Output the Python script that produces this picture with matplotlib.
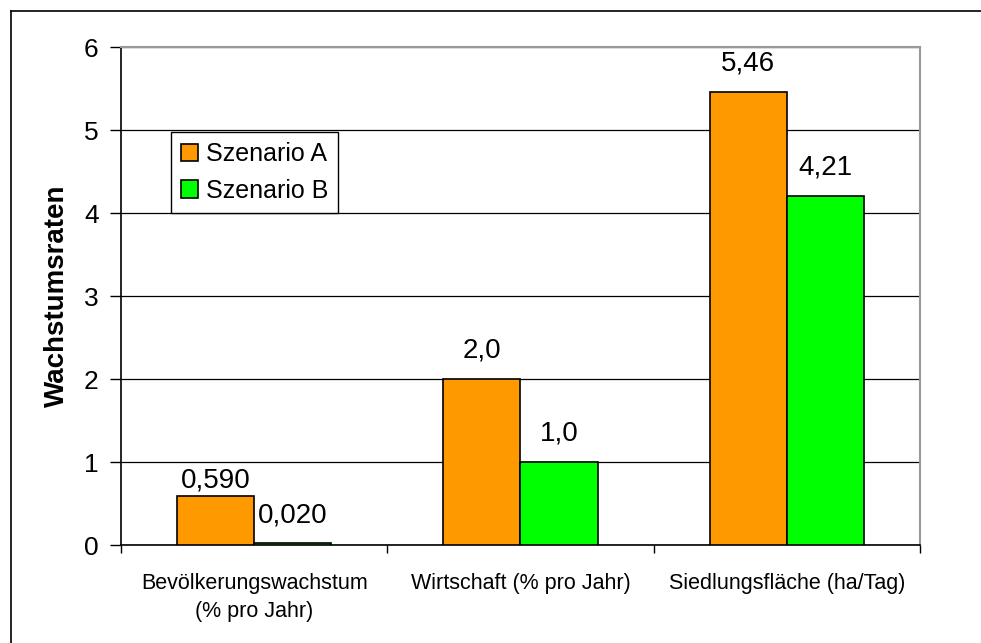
import numpy as np
import matplotlib
matplotlib.use("Agg")
import matplotlib.pyplot as plt
from matplotlib.lines import Line2D

plt.rcParams["font.family"] = ["Liberation Sans", "DejaVu Sans"]

categories = ["Bevölkerungswachstum\n(% pro Jahr)", "Wirtschaft (% pro Jahr)", "Siedlungsfläche (ha/Tag)"]
szenario_a = [0.590, 2.0, 5.46]
szenario_b = [0.020, 1.0, 4.21]
labels_a = ["0,590", "2,0", "5,46"]
labels_b = ["0,020", "1,0", "4,21"]
series_names = ["Szenario A", "Szenario B"]

fig = plt.figure(figsize=(9.81, 6.43), dpi=100)
ax = fig.add_axes([0.1233, 0.1524, 0.8145, 0.7745])

x = np.arange(len(categories))
w = 0.29
ba = ax.bar(x - w / 2, szenario_a, w, color="#FF9900", edgecolor="black", linewidth=1.2,
            label=series_names[0], zorder=3)
bb = ax.bar(x + w / 2, szenario_b, w, color="#00FF00", edgecolor="black", linewidth=1.2,
            label=series_names[1], zorder=3)

# label offsets in points (first orange label sits closer, as in the original)
offs_a = [2, 11, 11]
offs_b = [11, 11, 11]
for rect, lab, off in zip(ba, labels_a, offs_a):
    ax.annotate(lab, (rect.get_x() + rect.get_width() / 2, rect.get_height()),
                xytext=(0, off), textcoords="offset points", ha="center", va="bottom", fontsize=20)
for rect, lab, off in zip(bb, labels_b, offs_b):
    ax.annotate(lab, (rect.get_x() + rect.get_width() / 2, rect.get_height()),
                xytext=(0, off), textcoords="offset points", ha="center", va="bottom", fontsize=20)

ax.set_xlim(-0.5, 2.5)
ax.set_ylim(0, 6)
ax.set_yticks(range(0, 7))
ax.tick_params(axis="y", direction="out", length=8, width=1, labelsize=19, pad=8)

ax.set_xticks(x)
ax.set_xticklabels(categories, fontsize=15.5, linespacing=1.45)
ax.tick_params(axis="x", which="major", length=0, pad=20)
ax.set_xticks([-0.5, 0.5, 1.5, 2.5], minor=True)
ax.tick_params(axis="x", which="minor", direction="out", length=6, width=1)

ax.yaxis.grid(True, color="black", linewidth=0.9)
ax.set_axisbelow(True)
ax.spines["top"].set_color("#999999")
ax.spines["right"].set_color("#999999")
ax.spines["top"].set_linewidth(1.5)
ax.spines["right"].set_linewidth(1.5)
ax.spines["left"].set_linewidth(1.2)
ax.spines["bottom"].set_linewidth(1.2)

ax.set_ylabel("Wachstumsraten", fontsize=20, fontweight="bold", labelpad=10)

leg = ax.legend(loc="upper left", bbox_to_anchor=(0.0626, 0.829), fontsize=18,
                frameon=True, fancybox=False, edgecolor="black", framealpha=1,
                handlelength=0.7, handleheight=0.7, handletextpad=0.3,
                borderpad=0.4, labelspacing=0.5, borderaxespad=0)
leg.get_frame().set_linewidth(1.0)

# outer frame (only top and left edges visible)
fig.add_artist(Line2D([11 / 981, 11 / 981], [0, 1 - 11 / 643], color="black", linewidth=1.2))
fig.add_artist(Line2D([11 / 981, 1], [1 - 11 / 643, 1 - 11 / 643], color="black", linewidth=1.2))

fig.savefig("out.png", dpi=100)
